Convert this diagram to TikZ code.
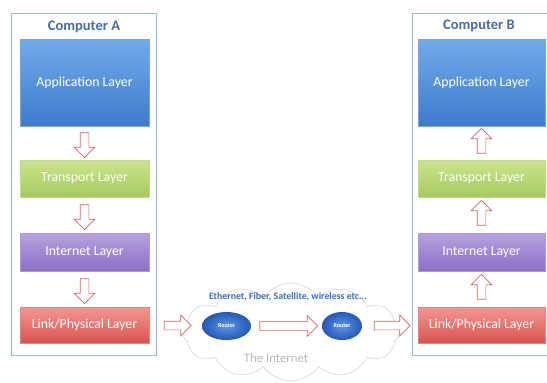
\documentclass[tikz,border=0pt]{standalone}
\usepackage{fontspec}
\setmainfont{Carlito}
\usepackage{xcolor}
\usepackage{tikz}
\usetikzlibrary{shapes,arrows,positioning,calc,shapes.arrows,shapes.symbols}

\definecolor{framecol}{HTML}{9DB9DE}
\definecolor{titlecol}{HTML}{4A6BA6}
\definecolor{arrowred}{HTML}{CC6A66}
\definecolor{netblue}{HTML}{3C6DC4}
\definecolor{apptop}{HTML}{72AAEA}
\definecolor{appbot}{HTML}{3E7BCB}
\definecolor{transtop}{HTML}{CDE38F}
\definecolor{transbot}{HTML}{A3CB5C}
\definecolor{nettop}{HTML}{B6A2DE}
\definecolor{netbot}{HTML}{8A6FC6}
\definecolor{linktop}{HTML}{F49893}
\definecolor{linkbot}{HTML}{DB524D}
\definecolor{routerin}{HTML}{5E95E8}
\definecolor{routerout}{HTML}{2458B4}

\tikzset{
    frame/.style={draw=framecol, line width=0.9pt, fill=white, minimum height=342pt},
    title/.style={font=\fontsize{14.5}{16}\selectfont\bfseries, text=titlecol},
    layer/.style={text=white, font=\fontsize{13.8}{16}\selectfont, inner sep=0pt},
    appbox/.style={top color=apptop, bottom color=appbot, draw=appbot!70!white, minimum height=87pt},
    transbox/.style={top color=transtop, bottom color=transbot, draw=transbot!70!white, minimum height=37pt},
    netbox/.style={top color=nettop, bottom color=netbot, draw=netbot!70!white, minimum height=38pt},
    linkbox/.style={top color=linktop, bottom color=linkbot, draw=linkbot!70!white, minimum height=36pt},
    hollow/.style={single arrow, draw=arrowred, fill=white, line width=0.7pt, inner xsep=0pt, inner ysep=4pt, single arrow head extend=6pt},
    router/.style={ellipse, inner sep=0pt, minimum height=28pt, inner color=routerin, outer color=routerout, text=white, font=\fontsize{6}{7}\selectfont\bfseries}
}

\begin{document}
\begin{tikzpicture}[x=1pt, y=-1pt]
    \useasboundingbox (0,0) rectangle (547,383);

    % Computer A
    \node[frame, minimum width=145pt] (frameA) at (83.5,184) {};
    \node[title] (titleA) at (84,27) {Computer A};
    \node[layer, appbox, minimum width=129pt] (appA) at (84.5,82.5) {Application Layer};
    \node[layer, transbox, minimum width=129pt] (transA) at (84.5,178.5) {Transport Layer};
    \node[layer, netbox, minimum width=129pt] (netA) at (84.5,252) {Internet Layer};
    \node[layer, linkbox, minimum width=129pt] (linkA) at (84.5,325) {Link/Physical Layer};

    \node[hollow, rotate=-90, minimum height=25pt] (dA1) at ($(appA.south)!0.5!(transA.north)$) {};
    \node[hollow, rotate=-90, minimum height=25pt] (dA2) at ($(transA.south)!0.5!(netA.north)$) {};
    \node[hollow, rotate=-90, minimum height=25pt] (dA3) at ($(netA.south)!0.5!(linkA.north)$) {};

    % Computer B
    \node[frame, minimum width=136pt] (frameB) at (480,184) {};
    \node[title] (titleB) at (479,26) {Computer B};
    \node[layer, appbox, minimum width=127pt] (appB) at (481.5,82.5) {Application Layer};
    \node[layer, transbox, minimum width=127pt] (transB) at (481.5,178.5) {Transport Layer};
    \node[layer, netbox, minimum width=127pt] (netB) at (481.5,252) {Internet Layer};
    \node[layer, linkbox, minimum width=127pt] (linkB) at (481.5,325) {Link/Physical Layer};

    \node[hollow, rotate=90, minimum height=25pt] (uB1) at ($(linkB.north)!0.5!(netB.south)$) {};
    \node[hollow, rotate=90, minimum height=25pt] (uB2) at ($(netB.north)!0.5!(transB.south)$) {};
    \node[hollow, rotate=90, minimum height=25pt] (uB3) at ($(transB.north)!0.5!(appB.south)$) {};

    % The Internet
    \node[cloud, cloud puffs=12, cloud puff arc=110, aspect=2.3, draw=gray!45, fill=white,
          minimum width=217pt, minimum height=98pt] (net) at (291,332) {};
    \node[font=\fontsize{9.8}{11}\selectfont\bfseries, text=netblue] (media) at (288,297) {Ethernet, Fiber, Satellite, wireless etc...};
    \node[font=\fontsize{12.8}{15}\selectfont, text=gray!55] (netlabel) at (276,358) {The Internet};
    \node[router, minimum width=49pt] (r1) at (226.5,326) {Router};
    \node[router, minimum width=40pt] (r2) at (342,326) {Router};

    \node[hollow, minimum height=27pt] (hA) at ($(linkA.east)!0.5!(r1.west)$) {};
    \node[hollow, minimum height=58pt] (hR) at ($(r1.east)!0.5!(r2.west)$) {};
    \node[hollow, minimum height=36pt] (hB) at ($(r2.east)!0.5!(linkB.west)$) {};
\end{tikzpicture}
\end{document}
